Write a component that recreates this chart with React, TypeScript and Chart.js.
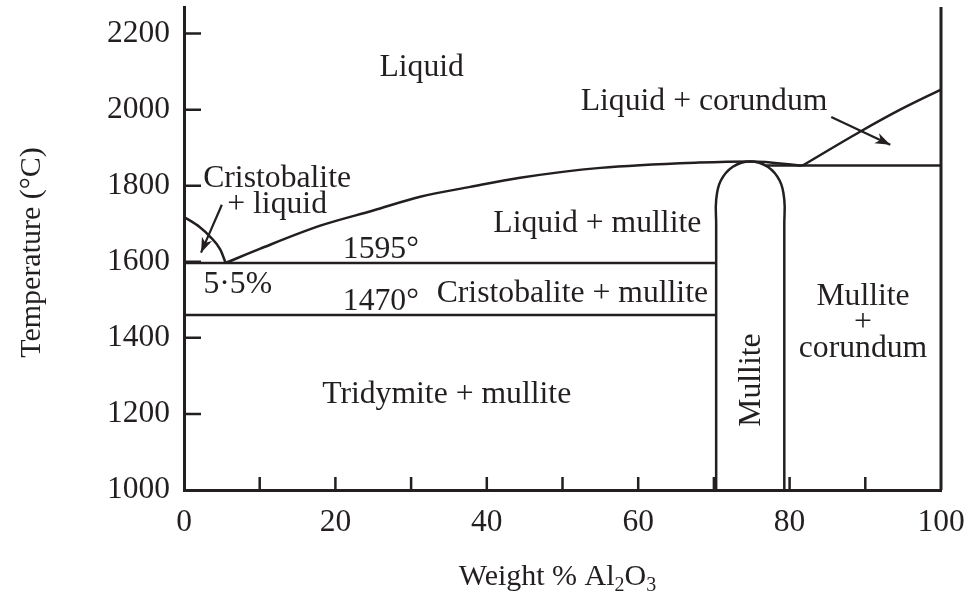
import React, { useEffect, useRef } from 'react';
import { Chart, registerables } from 'chart.js';

Chart.register(...registerables);

const INK = '#231f20';
const FONT = '"Liberation Serif", "Times New Roman", Times, serif';

// Axes
const xMin = 0;
const xMax = 100;
const yMin = 1000;
const yMax = 2270;
const xTickLabels = [0, 20, 40, 60, 80, 100];
const xTickMarks = [10, 20, 30, 40, 50, 60, 70, 80, 90];
const yTickLabels = [1000, 1200, 1400, 1600, 1800, 2000, 2200];
const yTickMarks = [1200, 1400, 1600, 1800, 2000, 2200];

// Phase boundaries: [wt% Al2O3, temperature °C]
const cristobaliteLiquidus = [[0, 1718], [2.1, 1691], [3.4, 1667], [4.8, 1632], [5.5, 1597]];
const mulliteLiquidus = [
  [5.5, 1597], [10, 1634], [18, 1695], [25, 1735], [31.2, 1771], [37.8, 1797],
  [44.4, 1821], [55, 1847], [68, 1861], [75, 1864], [81.7, 1853],
];
const corundumLiquidus = [[81.7, 1853], [89.3, 1942], [94.6, 2000], [100, 2053]];
const eutecticLine = [[0, 1597], [70.3, 1597]];
const tridymiteLine = [[0, 1460], [70.3, 1460]];
const corundumEutectic = [[76.8, 1853], [100, 1853]];
const mulliteField = [
  [70.3, 1000], [70.3, 1700], [70.3, 1763], [70.9, 1813], [72.5, 1850], [74.8, 1864],
  [77.1, 1850], [78.7, 1813], [79.3, 1763], [79.3, 1700], [79.3, 1000],
];
const rightEdge = [[100, 1000], [100, 2270]];
const arrowCristobalite = [[5.0, 1750], [2.25, 1624]];
const arrowCorundum = [[85.5, 1981], [93.3, 1908]];

// Region labels: text, x (wt%), y (°C, baseline)
const labelTexts = [
  'Liquid', 'Liquid + corundum', 'Cristobalite', '+ liquid', 'Liquid + mullite', '1595°',
  '5·5%', '1470°', 'Cristobalite + mullite', 'Tridymite + mullite', 'Mullite', 'Mullite', '+', 'corundum',
];
const labelX = [31.4, 68.7, 12.3, 12.3, 54.6, 26.0, 7.1, 26.0, 51.3, 34.7, 76.1, 89.7, 89.7, 89.7];
const labelY = [2089, 2000, 1797, 1729, 1679, 1611, 1518, 1474, 1495, 1229, 1289, 1487, 1418, 1350];
const labelRotated = [false, false, false, false, false, false, false, false, false, false, true, false, false, false];

const toXY = (arr: number[][]) => arr.map(([x, y]) => ({ x, y }));

const line = (data: number[][], extra: any = {}) => ({
  data: toXY(data),
  borderColor: INK,
  borderWidth: 2.5,
  pointRadius: 0,
  fill: false,
  tension: 0,
  clip: false,
  ...extra,
});

const zeroPad = (s: any) => {
  s.paddingTop = 0;
  s.paddingBottom = 0;
  s.paddingLeft = 0;
  s.paddingRight = 0;
};

const decorPlugin = {
  id: 'decor',
  afterDatasetsDraw(chart: any) {
    const { ctx, chartArea, scales } = chart;
    const xs = scales.x;
    const ys = scales.y;
    ctx.save();
    ctx.strokeStyle = INK;
    ctx.fillStyle = INK;

    // inward tick marks
    ctx.lineWidth = 2.5;
    ctx.beginPath();
    for (const v of xTickMarks) {
      const px = xs.getPixelForValue(v);
      ctx.moveTo(px, chartArea.bottom);
      ctx.lineTo(px, chartArea.bottom - 13);
    }
    for (const v of yTickMarks) {
      const py = ys.getPixelForValue(v);
      ctx.moveTo(chartArea.left, py);
      ctx.lineTo(chartArea.left + 17, py);
    }
    ctx.stroke();

    // arrowheads
    for (const a of [arrowCristobalite, arrowCorundum]) {
      const [p0, p1] = a;
      const x0 = xs.getPixelForValue(p0[0]);
      const y0 = ys.getPixelForValue(p0[1]);
      const x1 = xs.getPixelForValue(p1[0]);
      const y1 = ys.getPixelForValue(p1[1]);
      const ang = Math.atan2(y1 - y0, x1 - x0);
      const len = 15;
      const half = 5.5;
      ctx.save();
      ctx.translate(x1, y1);
      ctx.rotate(ang);
      ctx.beginPath();
      ctx.moveTo(0, 0);
      ctx.lineTo(-len, -half);
      ctx.lineTo(-len * 0.72, 0);
      ctx.lineTo(-len, half);
      ctx.closePath();
      ctx.fill();
      ctx.restore();
    }

    // region labels
    ctx.font = `31.7px ${FONT}`;
    ctx.textAlign = 'center';
    ctx.textBaseline = 'alphabetic';
    labelTexts.forEach((t, i) => {
      const px = xs.getPixelForValue(labelX[i]);
      const py = ys.getPixelForValue(labelY[i]);
      if (labelRotated[i]) {
        ctx.save();
        ctx.translate(px, py);
        ctx.rotate(-Math.PI / 2);
        ctx.fillText(t, 0, 0);
        ctx.restore();
      } else {
        ctx.fillText(t, px, py);
      }
    });

    // y axis title
    ctx.save();
    ctx.font = `30px ${FONT}`;
    ctx.translate(chartArea.left - 144, (chartArea.top + chartArea.bottom) / 2 + 4);
    ctx.rotate(-Math.PI / 2);
    ctx.fillText('Temperature (°C)', 0, 0);
    ctx.restore();

    // x axis title with subscripts
    const parts = [
      { t: 'Weight % Al', s: 30, dy: 0 },
      { t: '2', s: 20, dy: 6 },
      { t: 'O', s: 30, dy: 0 },
      { t: '3', s: 20, dy: 6 },
    ];
    let total = 0;
    for (const p of parts) {
      ctx.font = `${p.s}px ${FONT}`;
      total += ctx.measureText(p.t).width;
    }
    let cx = (chartArea.left + chartArea.right) / 2 - 5 - total / 2;
    const base = chartArea.bottom + 95;
    ctx.textAlign = 'left';
    for (const p of parts) {
      ctx.font = `${p.s}px ${FONT}`;
      ctx.fillText(p.t, cx, base + p.dy);
      cx += ctx.measureText(p.t).width;
    }
    ctx.restore();
  },
};

export default function App() {
  const canvasRef = useRef<HTMLCanvasElement | null>(null);

  useEffect(() => {
    if (!canvasRef.current) return;
    const chart = new Chart(canvasRef.current, {
      type: 'line',
      data: {
        datasets: [
          line(cristobaliteLiquidus, { cubicInterpolationMode: 'monotone', tension: 0.4 }),
          line(mulliteLiquidus, { cubicInterpolationMode: 'monotone', tension: 0.4 }),
          line(corundumLiquidus, { cubicInterpolationMode: 'monotone', tension: 0.4 }),
          line(eutecticLine),
          line(tridymiteLine),
          line(corundumEutectic),
          line(mulliteField, { tension: 0.4 }),
          line(rightEdge, { borderWidth: 3 }),
          line(arrowCristobalite, { borderWidth: 2.2 }),
          line(arrowCorundum, { borderWidth: 2.2 }),
        ],
      } as any,
      options: {
        animation: false,
        responsive: true,
        maintainAspectRatio: false,
        events: [],
        layout: { padding: { top: 7, right: 25, left: 0, bottom: 0 } },
        plugins: { legend: { display: false }, tooltip: { enabled: false } },
        scales: {
          x: {
            type: 'linear',
            min: xMin,
            max: xMax,
            afterBuildTicks: (s: any) => {
              s.ticks = xTickLabels.map((v) => ({ value: v }));
            },
            afterFit: (s: any) => {
              s.height = 108;
              zeroPad(s);
            },
            grid: { display: false, drawTicks: false },
            border: { display: true, color: INK, width: 3 },
            ticks: {
              padding: 14,
              color: INK,
              maxRotation: 0,
              autoSkip: false,
              font: { family: FONT, size: 31.5 },
              callback: (v: any) => String(v),
            },
          },
          y: {
            type: 'linear',
            min: yMin,
            max: yMax,
            afterBuildTicks: (s: any) => {
              s.ticks = yTickLabels.map((v) => ({ value: v }));
            },
            afterFit: (s: any) => {
              s.width = 184;
              zeroPad(s);
            },
            grid: { display: false, drawTicks: false },
            border: { display: true, color: INK, width: 3 },
            ticks: {
              padding: 14,
              color: INK,
              autoSkip: false,
              font: { family: FONT, size: 31.5 },
              callback: (v: any) => String(v),
            },
          },
        },
      } as any,
      plugins: [decorPlugin],
    });
    return () => chart.destroy();
  }, []);

  return (
    <div style={{ position: 'absolute', left: 0, top: 0, width: 966, height: 598, background: '#fff' }}>
      <canvas ref={canvasRef} />
    </div>
  );
}
